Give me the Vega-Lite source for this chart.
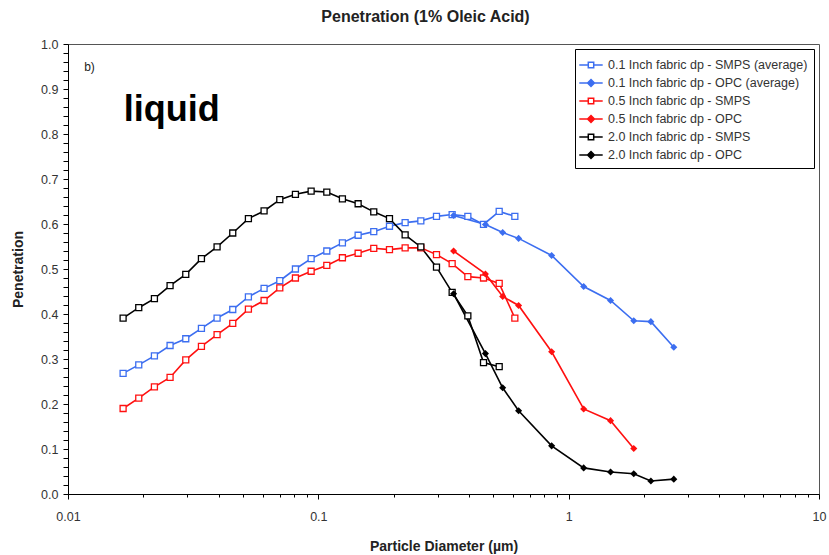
{
  "$schema": "https://vega.github.io/schema/vega-lite/v6.json",
  "width": 751,
  "height": 450,
  "autosize": {"type": "none"},
  "padding": {"left": 68, "top": 44, "right": 10, "bottom": 61},
  "background": "white",
  "title": {"text": "Penetration (1% Oleic Acid)", "font": "Liberation Sans", "fontSize": 16, "fontWeight": "bold", "color": "#222", "anchor": "middle", "offset": 13, "dx": -18},
  "config": {
    "view": {"stroke": "#555", "strokeWidth": 1},
    "axis": {"grid": false, "domainColor": "black", "tickColor": "black", "labelFont": "Liberation Sans", "labelFontSize": 12.5, "labelColor": "#333", "titleFont": "Liberation Sans", "titleFontSize": 14, "titleFontWeight": "bold", "titleColor": "#222"},
    "legend": {"orient": "top-right", "offset": 5, "padding": 6, "strokeColor": "black", "fillColor": "white",
      "labelFont": "Liberation Sans", "labelFontSize": 12.5, "labelColor": "#333", "labelLimit": 400,
      "symbolSize": 324, "symbolStrokeWidth": 1.5, "symbolOpacity": 1, "rowPadding": 1, "labelOffset": 7}
  },
  "resolve": {"legend": {"stroke": "independent", "fill": "independent", "shape": "independent", "color": "independent"}},
  "data": {"values": [
    {"series": "0.1 Inch fabric dp - SMPS (average)", "inst": "SMPS", "d": 0.0166, "p": 0.268},
    {"series": "0.1 Inch fabric dp - SMPS (average)", "inst": "SMPS", "d": 0.01917, "p": 0.287},
    {"series": "0.1 Inch fabric dp - SMPS (average)", "inst": "SMPS", "d": 0.02214, "p": 0.307},
    {"series": "0.1 Inch fabric dp - SMPS (average)", "inst": "SMPS", "d": 0.02557, "p": 0.330},
    {"series": "0.1 Inch fabric dp - SMPS (average)", "inst": "SMPS", "d": 0.02954, "p": 0.345},
    {"series": "0.1 Inch fabric dp - SMPS (average)", "inst": "SMPS", "d": 0.03412, "p": 0.368},
    {"series": "0.1 Inch fabric dp - SMPS (average)", "inst": "SMPS", "d": 0.0394, "p": 0.391},
    {"series": "0.1 Inch fabric dp - SMPS (average)", "inst": "SMPS", "d": 0.04551, "p": 0.410},
    {"series": "0.1 Inch fabric dp - SMPS (average)", "inst": "SMPS", "d": 0.05256, "p": 0.438},
    {"series": "0.1 Inch fabric dp - SMPS (average)", "inst": "SMPS", "d": 0.06071, "p": 0.457},
    {"series": "0.1 Inch fabric dp - SMPS (average)", "inst": "SMPS", "d": 0.07015, "p": 0.474},
    {"series": "0.1 Inch fabric dp - SMPS (average)", "inst": "SMPS", "d": 0.081, "p": 0.500},
    {"series": "0.1 Inch fabric dp - SMPS (average)", "inst": "SMPS", "d": 0.09359, "p": 0.523},
    {"series": "0.1 Inch fabric dp - SMPS (average)", "inst": "SMPS", "d": 0.1081, "p": 0.540},
    {"series": "0.1 Inch fabric dp - SMPS (average)", "inst": "SMPS", "d": 0.1248, "p": 0.558},
    {"series": "0.1 Inch fabric dp - SMPS (average)", "inst": "SMPS", "d": 0.1442, "p": 0.575},
    {"series": "0.1 Inch fabric dp - SMPS (average)", "inst": "SMPS", "d": 0.1665, "p": 0.583},
    {"series": "0.1 Inch fabric dp - SMPS (average)", "inst": "SMPS", "d": 0.1924, "p": 0.595},
    {"series": "0.1 Inch fabric dp - SMPS (average)", "inst": "SMPS", "d": 0.2222, "p": 0.603},
    {"series": "0.1 Inch fabric dp - SMPS (average)", "inst": "SMPS", "d": 0.2567, "p": 0.607},
    {"series": "0.1 Inch fabric dp - SMPS (average)", "inst": "SMPS", "d": 0.2965, "p": 0.617},
    {"series": "0.1 Inch fabric dp - SMPS (average)", "inst": "SMPS", "d": 0.3424, "p": 0.621},
    {"series": "0.1 Inch fabric dp - SMPS (average)", "inst": "SMPS", "d": 0.3956, "p": 0.617},
    {"series": "0.1 Inch fabric dp - SMPS (average)", "inst": "SMPS", "d": 0.4569, "p": 0.599},
    {"series": "0.1 Inch fabric dp - SMPS (average)", "inst": "SMPS", "d": 0.5278, "p": 0.628},
    {"series": "0.1 Inch fabric dp - SMPS (average)", "inst": "SMPS", "d": 0.6095, "p": 0.617},
    {"series": "0.1 Inch fabric dp - OPC (average)", "inst": "OPC", "d": 0.347, "p": 0.619},
    {"series": "0.1 Inch fabric dp - OPC (average)", "inst": "OPC", "d": 0.465, "p": 0.599},
    {"series": "0.1 Inch fabric dp - OPC (average)", "inst": "OPC", "d": 0.545, "p": 0.581},
    {"series": "0.1 Inch fabric dp - OPC (average)", "inst": "OPC", "d": 0.631, "p": 0.568},
    {"series": "0.1 Inch fabric dp - OPC (average)", "inst": "OPC", "d": 0.855, "p": 0.530},
    {"series": "0.1 Inch fabric dp - OPC (average)", "inst": "OPC", "d": 1.148, "p": 0.461},
    {"series": "0.1 Inch fabric dp - OPC (average)", "inst": "OPC", "d": 1.47, "p": 0.430},
    {"series": "0.1 Inch fabric dp - OPC (average)", "inst": "OPC", "d": 1.82, "p": 0.385},
    {"series": "0.1 Inch fabric dp - OPC (average)", "inst": "OPC", "d": 2.13, "p": 0.383},
    {"series": "0.1 Inch fabric dp - OPC (average)", "inst": "OPC", "d": 2.63, "p": 0.326},
    {"series": "0.5 Inch fabric dp - SMPS", "inst": "SMPS", "d": 0.0166, "p": 0.190},
    {"series": "0.5 Inch fabric dp - SMPS", "inst": "SMPS", "d": 0.01917, "p": 0.213},
    {"series": "0.5 Inch fabric dp - SMPS", "inst": "SMPS", "d": 0.02214, "p": 0.238},
    {"series": "0.5 Inch fabric dp - SMPS", "inst": "SMPS", "d": 0.02557, "p": 0.259},
    {"series": "0.5 Inch fabric dp - SMPS", "inst": "SMPS", "d": 0.02954, "p": 0.298},
    {"series": "0.5 Inch fabric dp - SMPS", "inst": "SMPS", "d": 0.03412, "p": 0.328},
    {"series": "0.5 Inch fabric dp - SMPS", "inst": "SMPS", "d": 0.0394, "p": 0.354},
    {"series": "0.5 Inch fabric dp - SMPS", "inst": "SMPS", "d": 0.04551, "p": 0.379},
    {"series": "0.5 Inch fabric dp - SMPS", "inst": "SMPS", "d": 0.05256, "p": 0.411},
    {"series": "0.5 Inch fabric dp - SMPS", "inst": "SMPS", "d": 0.06071, "p": 0.430},
    {"series": "0.5 Inch fabric dp - SMPS", "inst": "SMPS", "d": 0.07015, "p": 0.458},
    {"series": "0.5 Inch fabric dp - SMPS", "inst": "SMPS", "d": 0.081, "p": 0.480},
    {"series": "0.5 Inch fabric dp - SMPS", "inst": "SMPS", "d": 0.09359, "p": 0.495},
    {"series": "0.5 Inch fabric dp - SMPS", "inst": "SMPS", "d": 0.1081, "p": 0.508},
    {"series": "0.5 Inch fabric dp - SMPS", "inst": "SMPS", "d": 0.1248, "p": 0.525},
    {"series": "0.5 Inch fabric dp - SMPS", "inst": "SMPS", "d": 0.1442, "p": 0.535},
    {"series": "0.5 Inch fabric dp - SMPS", "inst": "SMPS", "d": 0.1665, "p": 0.546},
    {"series": "0.5 Inch fabric dp - SMPS", "inst": "SMPS", "d": 0.1924, "p": 0.543},
    {"series": "0.5 Inch fabric dp - SMPS", "inst": "SMPS", "d": 0.2222, "p": 0.547},
    {"series": "0.5 Inch fabric dp - SMPS", "inst": "SMPS", "d": 0.2567, "p": 0.547},
    {"series": "0.5 Inch fabric dp - SMPS", "inst": "SMPS", "d": 0.2965, "p": 0.532},
    {"series": "0.5 Inch fabric dp - SMPS", "inst": "SMPS", "d": 0.3424, "p": 0.512},
    {"series": "0.5 Inch fabric dp - SMPS", "inst": "SMPS", "d": 0.3956, "p": 0.483},
    {"series": "0.5 Inch fabric dp - SMPS", "inst": "SMPS", "d": 0.4569, "p": 0.480},
    {"series": "0.5 Inch fabric dp - SMPS", "inst": "SMPS", "d": 0.5278, "p": 0.468},
    {"series": "0.5 Inch fabric dp - SMPS", "inst": "SMPS", "d": 0.6095, "p": 0.391},
    {"series": "0.5 Inch fabric dp - OPC", "inst": "OPC", "d": 0.347, "p": 0.540},
    {"series": "0.5 Inch fabric dp - OPC", "inst": "OPC", "d": 0.465, "p": 0.489},
    {"series": "0.5 Inch fabric dp - OPC", "inst": "OPC", "d": 0.545, "p": 0.439},
    {"series": "0.5 Inch fabric dp - OPC", "inst": "OPC", "d": 0.631, "p": 0.419},
    {"series": "0.5 Inch fabric dp - OPC", "inst": "OPC", "d": 0.855, "p": 0.316},
    {"series": "0.5 Inch fabric dp - OPC", "inst": "OPC", "d": 1.148, "p": 0.189},
    {"series": "0.5 Inch fabric dp - OPC", "inst": "OPC", "d": 1.47, "p": 0.163},
    {"series": "0.5 Inch fabric dp - OPC", "inst": "OPC", "d": 1.82, "p": 0.101},
    {"series": "2.0 Inch fabric dp - SMPS", "inst": "SMPS", "d": 0.0166, "p": 0.391},
    {"series": "2.0 Inch fabric dp - SMPS", "inst": "SMPS", "d": 0.01917, "p": 0.414},
    {"series": "2.0 Inch fabric dp - SMPS", "inst": "SMPS", "d": 0.02214, "p": 0.434},
    {"series": "2.0 Inch fabric dp - SMPS", "inst": "SMPS", "d": 0.02557, "p": 0.463},
    {"series": "2.0 Inch fabric dp - SMPS", "inst": "SMPS", "d": 0.02954, "p": 0.488},
    {"series": "2.0 Inch fabric dp - SMPS", "inst": "SMPS", "d": 0.03412, "p": 0.523},
    {"series": "2.0 Inch fabric dp - SMPS", "inst": "SMPS", "d": 0.0394, "p": 0.549},
    {"series": "2.0 Inch fabric dp - SMPS", "inst": "SMPS", "d": 0.04551, "p": 0.580},
    {"series": "2.0 Inch fabric dp - SMPS", "inst": "SMPS", "d": 0.05256, "p": 0.612},
    {"series": "2.0 Inch fabric dp - SMPS", "inst": "SMPS", "d": 0.06071, "p": 0.629},
    {"series": "2.0 Inch fabric dp - SMPS", "inst": "SMPS", "d": 0.07015, "p": 0.654},
    {"series": "2.0 Inch fabric dp - SMPS", "inst": "SMPS", "d": 0.081, "p": 0.666},
    {"series": "2.0 Inch fabric dp - SMPS", "inst": "SMPS", "d": 0.09359, "p": 0.673},
    {"series": "2.0 Inch fabric dp - SMPS", "inst": "SMPS", "d": 0.1081, "p": 0.671},
    {"series": "2.0 Inch fabric dp - SMPS", "inst": "SMPS", "d": 0.1248, "p": 0.656},
    {"series": "2.0 Inch fabric dp - SMPS", "inst": "SMPS", "d": 0.1442, "p": 0.645},
    {"series": "2.0 Inch fabric dp - SMPS", "inst": "SMPS", "d": 0.1665, "p": 0.627},
    {"series": "2.0 Inch fabric dp - SMPS", "inst": "SMPS", "d": 0.1924, "p": 0.612},
    {"series": "2.0 Inch fabric dp - SMPS", "inst": "SMPS", "d": 0.2222, "p": 0.576},
    {"series": "2.0 Inch fabric dp - SMPS", "inst": "SMPS", "d": 0.2567, "p": 0.549},
    {"series": "2.0 Inch fabric dp - SMPS", "inst": "SMPS", "d": 0.2965, "p": 0.504},
    {"series": "2.0 Inch fabric dp - SMPS", "inst": "SMPS", "d": 0.3424, "p": 0.448},
    {"series": "2.0 Inch fabric dp - SMPS", "inst": "SMPS", "d": 0.3956, "p": 0.396},
    {"series": "2.0 Inch fabric dp - SMPS", "inst": "SMPS", "d": 0.4569, "p": 0.292},
    {"series": "2.0 Inch fabric dp - SMPS", "inst": "SMPS", "d": 0.5278, "p": 0.283},
    {"series": "2.0 Inch fabric dp - OPC", "inst": "OPC", "d": 0.347, "p": 0.445},
    {"series": "2.0 Inch fabric dp - OPC", "inst": "OPC", "d": 0.465, "p": 0.312},
    {"series": "2.0 Inch fabric dp - OPC", "inst": "OPC", "d": 0.545, "p": 0.236},
    {"series": "2.0 Inch fabric dp - OPC", "inst": "OPC", "d": 0.631, "p": 0.185},
    {"series": "2.0 Inch fabric dp - OPC", "inst": "OPC", "d": 0.855, "p": 0.107},
    {"series": "2.0 Inch fabric dp - OPC", "inst": "OPC", "d": 1.148, "p": 0.058},
    {"series": "2.0 Inch fabric dp - OPC", "inst": "OPC", "d": 1.47, "p": 0.049},
    {"series": "2.0 Inch fabric dp - OPC", "inst": "OPC", "d": 1.82, "p": 0.045},
    {"series": "2.0 Inch fabric dp - OPC", "inst": "OPC", "d": 2.13, "p": 0.029},
    {"series": "2.0 Inch fabric dp - OPC", "inst": "OPC", "d": 2.63, "p": 0.033}
  ]},
  "encoding": {
    "x": {"field": "d", "type": "quantitative",
      "scale": {"type": "log", "domain": [0.01, 10], "nice": false},
      "axis": {"title": "Particle Diameter (µm)", "values": [0.01,0.02,0.03,0.04,0.05,0.06,0.07,0.08,0.09,0.1,0.2,0.3,0.4,0.5,0.6,0.7,0.8,0.9,1,2,3,4,5,6,7,8,9,10],
        "labelExpr": "(datum.value==0.01||datum.value==0.1||datum.value==1||datum.value==10) ? format(datum.value,'~g') : ''",
        "labelOverlap": false, "labelFlush": false,
        "tickSize": {"condition": {"test": "datum.value==0.01||datum.value==0.1||datum.value==1||datum.value==10", "value": 5}, "value": 3},
        "labelPadding": 11, "titlePadding": 17}},
    "y": {"field": "p", "type": "quantitative",
      "scale": {"domain": [0, 1], "nice": false},
      "axis": {"title": "Penetration", "values": [0,0.02,0.04,0.06,0.08,0.1,0.12,0.14,0.16,0.18,0.2,0.22,0.24,0.26,0.28,0.3,0.32,0.34,0.36,0.38,0.4,0.42,0.44,0.46,0.48,0.5,0.52,0.54,0.56,0.58,0.6,0.62,0.64,0.66,0.68,0.7,0.72,0.74,0.76,0.78,0.8,0.82,0.84,0.86,0.88,0.9,0.92,0.94,0.96,0.98,1],
        "labelExpr": "(round(datum.value*100)%10==0) ? format(datum.value,'.1f') : ''",
        "labelOverlap": false, "labelFlush": false, "tickSize": 5, "labelPadding": 5, "titlePadding": 15}}
  },
  "layer": [
    {
      "mark": {"type": "line", "strokeWidth": 1.6},
      "encoding": {
        "color": {"field": "series", "type": "nominal",
          "scale": {"domain": ["0.1 Inch fabric dp - SMPS (average)", "0.1 Inch fabric dp - OPC (average)", "0.5 Inch fabric dp - SMPS", "0.5 Inch fabric dp - OPC", "2.0 Inch fabric dp - SMPS", "2.0 Inch fabric dp - OPC"],
            "range": ["#3C6EF0", "#3C6EF0", "#FF1010", "#FF1010", "#000000", "#000000"]},
          "legend": null}
      }
    },
    {
      "transform": [{"filter": "datum.inst=='SMPS'"}],
      "mark": {"type": "point", "shape": "square", "size": 36, "filled": false, "fill": "white", "fillOpacity": 1, "strokeWidth": 1.3, "opacity": 1},
      "encoding": {
        "stroke": {"field": "series", "type": "nominal",
          "scale": {"domain": ["0.1 Inch fabric dp - SMPS (average)", "0.1 Inch fabric dp - OPC (average)", "0.5 Inch fabric dp - SMPS", "0.5 Inch fabric dp - OPC", "2.0 Inch fabric dp - SMPS", "2.0 Inch fabric dp - OPC"],
            "range": ["#3C6EF0", "#3C6EF0", "#FF1010", "#FF1010", "#000000", "#000000"]},
          "legend": null}
      }
    },
    {
      "transform": [{"filter": "datum.inst=='OPC'"}],
      "mark": {"type": "point", "shape": "diamond", "size": 50, "filled": true, "opacity": 1, "strokeWidth": 0},
      "encoding": {
        "fill": {"field": "series", "type": "nominal",
          "scale": {"domain": ["0.1 Inch fabric dp - SMPS (average)", "0.1 Inch fabric dp - OPC (average)", "0.5 Inch fabric dp - SMPS", "0.5 Inch fabric dp - OPC", "2.0 Inch fabric dp - SMPS", "2.0 Inch fabric dp - OPC"],
            "range": ["white", "#3C6EF0", "white", "#FF1010", "white", "#000000"]},
          "legend": null}
      }
    },
    {
      "mark": {"type": "point", "opacity": 0, "strokeWidth": 1.5, "filled": true},
      "encoding": {
        "shape": {"field": "series", "type": "nominal",
          "scale": {"domain": ["0.1 Inch fabric dp - SMPS (average)", "0.1 Inch fabric dp - OPC (average)", "0.5 Inch fabric dp - SMPS", "0.5 Inch fabric dp - OPC", "2.0 Inch fabric dp - SMPS", "2.0 Inch fabric dp - OPC"],
            "range": ["M-1.3,0H-0.3M0.3,0H1.3M-0.3,-0.3H0.3V0.3H-0.3Z", "M-1.3,0H1.3M0,-0.38L0.38,0L0,0.38L-0.38,0Z", "M-1.3,0H-0.3M0.3,0H1.3M-0.3,-0.3H0.3V0.3H-0.3Z", "M-1.3,0H1.3M0,-0.38L0.38,0L0,0.38L-0.38,0Z", "M-1.3,0H-0.3M0.3,0H1.3M-0.3,-0.3H0.3V0.3H-0.3Z", "M-1.3,0H1.3M0,-0.38L0.38,0L0,0.38L-0.38,0Z"]},
          "legend": {"title": null}},
        "fill": {"field": "series", "type": "nominal", "legend": {"title": null}},
        "stroke": {"field": "series", "type": "nominal", "legend": {"title": null}}
      }
    },
    {
      "mark": {"type": "text", "text": "b)", "font": "Liberation Sans", "fontSize": 12, "align": "left", "baseline": "alphabetic", "color": "#222"},
      "transform": [{"filter": "datum.inst=='SMPS' && datum.d==0.0166 && datum.p==0.268"}],
      "encoding": {"x": {"datum": 0.0116, "type": "quantitative"}, "y": {"datum": 0.94, "type": "quantitative"}}
    },
    {
      "mark": {"type": "text", "text": "liquid", "font": "Liberation Sans", "fontSize": 36, "fontWeight": "bold", "align": "left", "baseline": "alphabetic", "color": "black"},
      "transform": [{"filter": "datum.inst=='SMPS' && datum.d==0.0166 && datum.p==0.268"}],
      "encoding": {"x": {"datum": 0.0167, "type": "quantitative"}, "y": {"datum": 0.83, "type": "quantitative"}}
    }
  ]
}
